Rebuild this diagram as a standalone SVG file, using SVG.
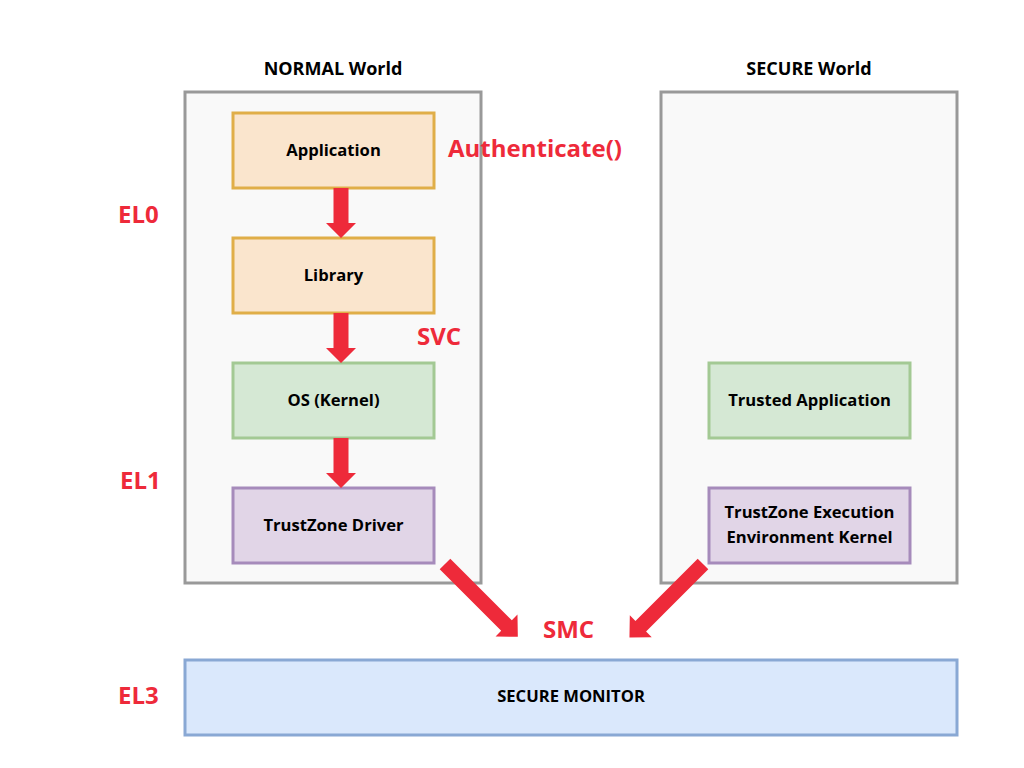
<svg xmlns="http://www.w3.org/2000/svg" width="1024" height="768" viewBox="0 0 1024 768">
<style>
.world{fill:#f9f9f9;stroke:#999999;stroke-width:3}
.title{font-family:"Open Sans",Lato,sans-serif;font-weight:bold;font-size:18px;fill:#000;text-anchor:middle}
.lbl{font-family:"Open Sans",Lato,sans-serif;font-weight:bold;font-size:16.6px;fill:#000;text-anchor:middle}
.red{font-family:"Open Sans",Lato,sans-serif;font-weight:bold;font-size:24px;fill:#ee2a3a}
.orange{fill:#fae5cd;stroke:#e0ae48;stroke-width:3}
.green{fill:#d5e8d4;stroke:#a3c994;stroke-width:3}
.purple{fill:#e1d5e7;stroke:#a68bbb;stroke-width:3}
.blue{fill:#dae8fc;stroke:#89a8d4;stroke-width:3}
.arrow{fill:#ee2a3a}
</style>
<defs>
<path id="vArrow" d="M-7.5,0 H7.5 V35 H15 L0,50 L-15,35 H-7.5 Z"/>
</defs>
<rect width="1024" height="768" fill="#ffffff"/>

<g id="normal-world">
<rect class="world" x="185" y="92" width="296" height="491"/>
<text class="title" x="333" y="75">NORMAL World</text>
</g>
<g id="secure-world">
<rect class="world" x="661" y="92" width="296" height="491"/>
<text class="title" x="809" y="75">SECURE World</text>
</g>

<g id="application">
<rect class="orange" x="233" y="113" width="201" height="75"/>
<text class="lbl" x="333.5" y="156">Application</text>
</g>
<g id="library">
<rect class="orange" x="233" y="238" width="201" height="75"/>
<text class="lbl" x="333.5" y="281">Library</text>
</g>
<g id="os-kernel">
<rect class="green" x="233" y="363" width="201" height="75"/>
<text class="lbl" x="333.5" y="406">OS (Kernel)</text>
</g>
<g id="trustzone-driver">
<rect class="purple" x="233" y="488" width="201" height="75"/>
<text class="lbl" x="333.5" y="531">TrustZone Driver</text>
</g>
<g id="trusted-application">
<rect class="green" x="709" y="363" width="201" height="75"/>
<text class="lbl" x="809.5" y="406">Trusted Application</text>
</g>
<g id="tee-kernel">
<rect class="purple" x="709" y="488" width="201" height="75"/>
<text class="lbl" x="809.5" y="518">TrustZone Execution</text>
<text class="lbl" x="809.5" y="543">Environment Kernel</text>
</g>
<g id="secure-monitor">
<rect class="blue" x="185" y="660" width="772" height="75"/>
<text class="lbl" x="571" y="702">SECURE MONITOR</text>
</g>

<g id="connectors">
<use href="#vArrow" class="arrow" x="341" y="188"/>
<use href="#vArrow" class="arrow" x="341" y="313"/>
<use href="#vArrow" class="arrow" x="341" y="438"/>
<path class="arrow" transform="translate(445,564) rotate(45)" d="M0,-7.5 H87 V-15.5 L103,0 L87,15.5 V7.5 H0 Z"/>
<path class="arrow" transform="translate(703,564) rotate(135)" d="M0,-7.5 H88 V-15.5 L104,0 L88,15.5 V7.5 H0 Z"/>
</g>

<g id="labels">
<text class="red" x="448" y="157">Authenticate()</text>
<text class="red" x="417" y="345">SVC</text>
<text class="red" x="118" y="223">EL0</text>
<text class="red" x="120" y="489">EL1</text>
<text class="red" x="118" y="704">EL3</text>
<text class="red" x="543" y="638">SMC</text>
</g>
</svg>
